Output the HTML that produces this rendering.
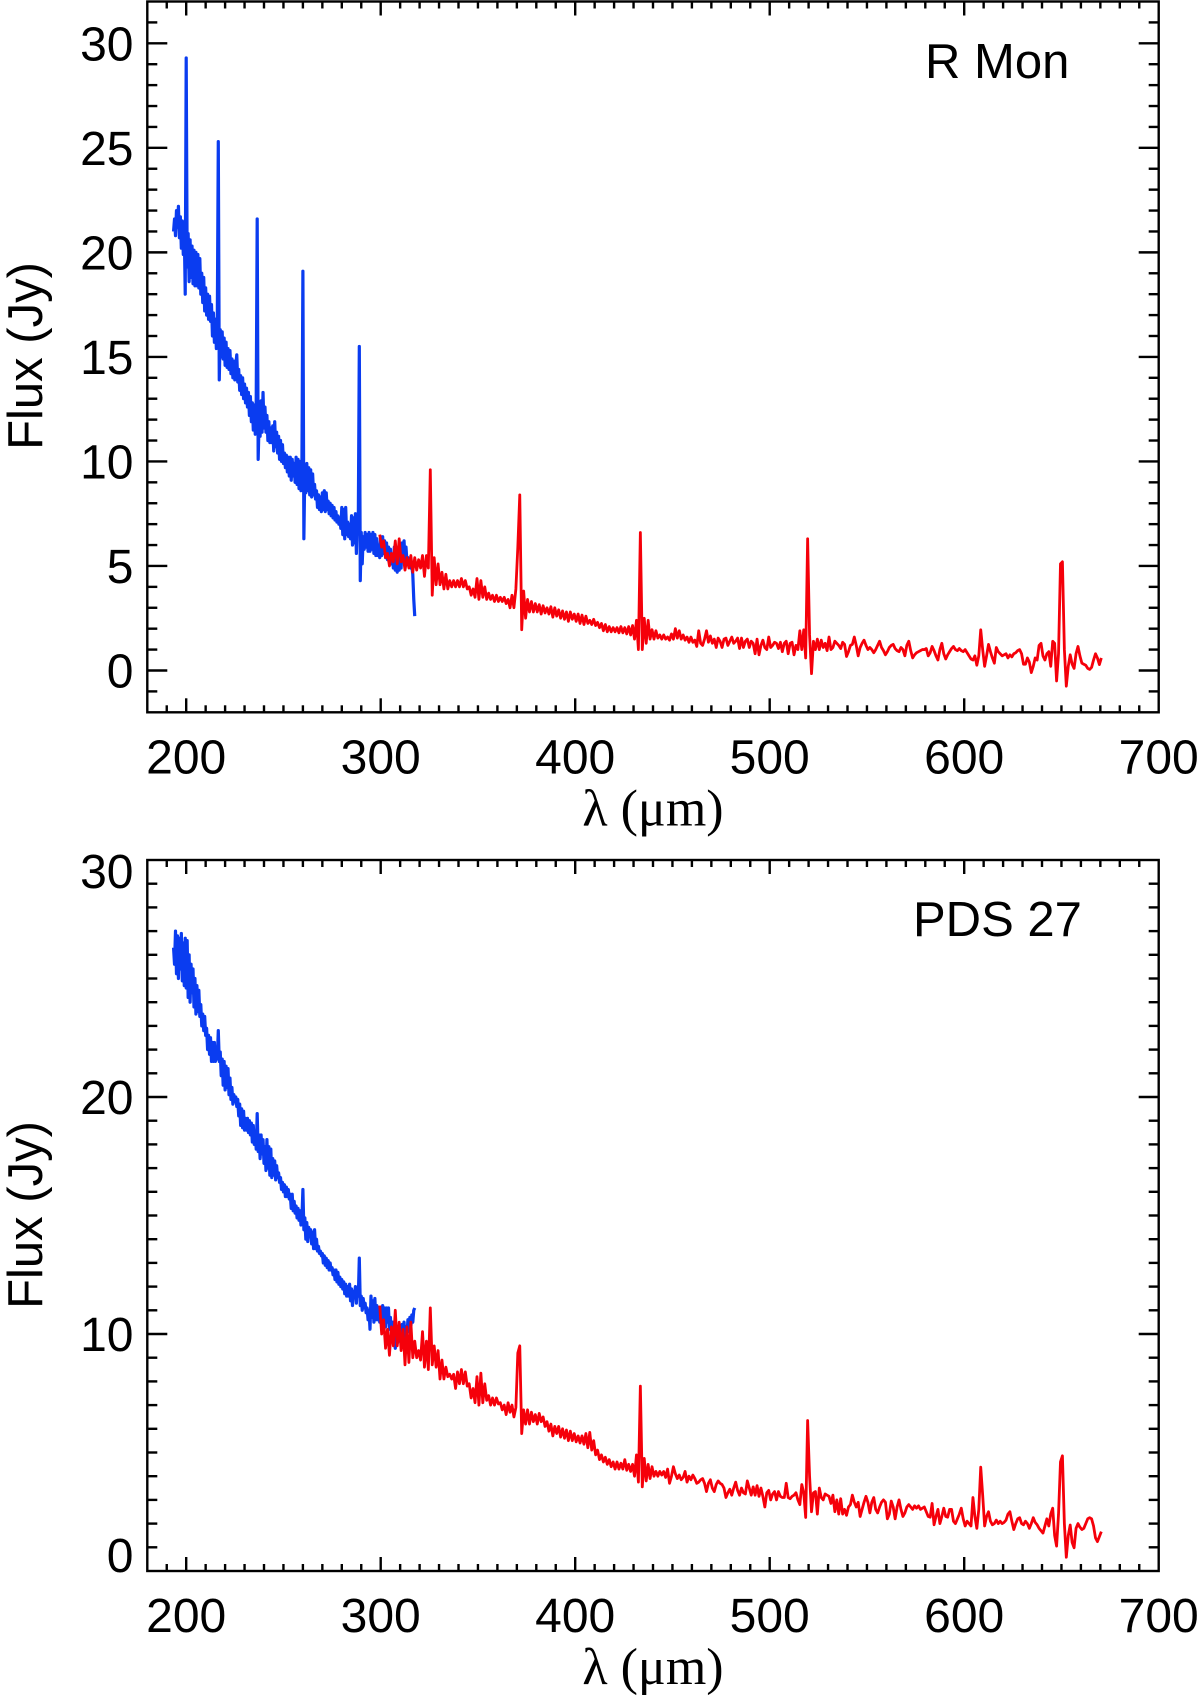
<!DOCTYPE html>
<html>
<head>
<meta charset="utf-8">
<title>R Mon and PDS 27 spectra</title>
<style>
html,body{margin:0;padding:0;background:#fff;width:1200px;height:1697px;overflow:hidden}
svg{display:block}
text{font-family:"Liberation Sans",sans-serif;font-size:48px;fill:#000}
.big{font-size:49px}
.serif{font-family:"Liberation Serif","DejaVu Serif",serif;font-size:52px}
</style>
</head>
<body>
<svg id="chart" width="1200" height="1697" viewBox="0 0 1200 1697" xmlns="http://www.w3.org/2000/svg"></svg>
<script>
const xTickLabels = [200, 300, 400, 500, 600, 700];
const rMonYLabels = [0, 5, 10, 15, 20, 25, 30];
const pdsYLabels = [0, 10, 20, 30];

const blueStart = 193.5;
const blueStep = 0.5;
const redStart = 299.5;
const redStep = 1;

const rMonBlueFlux = [
21.0,21.6,20.8,22.0,21.2,22.2,20.7,21.7,20.2,21.5,19.9,21.0,18.0,29.3,19.3,20.9,18.6,20.6,18.8,20.3,
18.5,20.1,18.4,20.0,18.4,19.9,18.3,19.7,18.0,19.0,17.6,18.8,17.2,18.3,17.0,18.0,16.8,17.9,16.7,17.5,
16.0,17.1,15.7,16.8,15.4,16.9,25.3,13.9,16.3,15.0,16.2,14.9,15.9,14.6,15.7,14.5,15.4,14.4,15.3,14.2,
14.9,14.0,14.8,13.9,14.6,15.1,13.8,14.4,13.4,14.1,13.2,14.0,13.0,13.7,12.8,13.5,12.6,13.3,12.2,13.1,
11.9,12.8,11.5,12.7,11.3,12.9,21.6,10.1,12.0,11.2,12.9,11.4,13.3,11.6,12.6,11.4,12.2,11.0,11.9,10.9,
11.6,10.9,11.7,10.5,11.9,10.7,11.4,10.4,11.2,10.1,11.0,10.0,10.8,9.9,10.4,9.7,10.3,9.5,10.2,9.3,
10.2,9.1,10.1,9.3,9.9,9.0,10.2,8.9,10.1,8.7,10.0,8.6,10.0,19.1,6.3,9.7,8.5,9.9,8.6,9.7,
8.4,9.6,8.3,9.4,8.4,8.9,8.2,8.6,7.8,8.4,7.7,8.3,7.6,8.5,7.7,8.6,7.6,8.5,7.7,8.1,
7.5,8.0,7.4,7.9,7.3,7.8,7.2,7.6,7.1,7.4,7.0,7.3,6.8,7.8,6.5,7.7,6.3,7.8,6.5,7.1,
6.4,7.0,6.3,7.4,6.0,7.3,6.1,7.5,5.6,7.3,7.4,15.5,4.3,6.6,5.1,6.4,5.8,6.6,5.9,6.5,
5.7,6.6,5.7,6.5,5.8,6.6,5.6,6.5,5.5,6.3,5.5,6.0,5.4,6.4,5.5,6.4,5.6,6.2,5.4,6.1,
5.3,5.9,5.2,5.8,5.1,5.5,4.9,5.9,4.8,5.8,4.7,5.7,4.8,5.6,4.9,6.1,5.4,6.2,5.3,5.9,
5.2,5.4,5.0,5.2,4.9,5.0,4.6,3.4,2.6
];

const rMonRedFlux = [
6.5,5.9,6.2,5.4,5.6,5.0,5.6,5.2,6.2,5.1,6.3,5.2,5.5,4.8,5.4,4.9,5.5,4.7,5.4,4.8,
5.3,4.9,5.5,4.5,5.5,4.9,9.6,3.6,5.4,4.1,5.1,4.1,4.7,3.9,4.6,3.9,4.3,4.0,4.3,4.0,
4.3,4.0,4.4,4.0,4.3,3.9,4.0,3.6,3.9,3.5,4.4,3.4,4.3,3.5,4.0,3.4,3.7,3.4,3.6,3.3,
3.6,3.3,3.5,3.3,3.5,3.2,3.4,3.0,3.6,3.0,3.9,5.9,8.4,1.95,3.8,2.5,3.4,2.8,3.3,2.8,
3.2,2.8,3.15,2.7,3.1,2.75,3.0,2.7,3.05,2.55,3.0,2.6,2.9,2.5,2.85,2.45,2.8,2.35,2.8,2.45,
2.7,2.35,2.7,2.25,2.65,2.2,2.6,2.25,2.4,2.2,2.45,2.15,2.3,2.05,2.25,1.9,2.2,1.85,2.1,1.85,
2.05,1.85,2.05,1.8,2.1,1.8,2.05,1.75,2.1,1.7,2.15,1.5,2.4,1.0,6.6,1.0,2.5,1.3,2.4,1.5,
1.95,1.5,1.9,1.55,1.7,1.5,1.7,1.5,1.6,1.45,1.75,1.5,2.0,1.55,1.9,1.5,1.7,1.45,1.6,1.35,
1.6,1.35,1.45,1.15,1.9,1.3,1.2,1.5,1.9,1.35,1.65,1.3,1.5,1.1,1.55,1.4,1.1,1.5,1.55,1.2,
1.4,1.6,1.3,1.4,1.55,1.05,1.55,1.1,1.4,1.5,1.1,1.4,1.3,0.8,1.5,0.75,1.2,1.45,1.1,1.0,
1.6,1.1,1.2,1.35,1.3,1.05,1.35,0.9,1.3,1.4,0.8,1.3,1.35,0.75,1.2,1.0,1.9,1.0,1.95,0.6,
6.3,1.7,-0.15,1.4,1.0,1.5,1.0,1.45,1.1,1.3,0.95,1.6,1.0,1.1,1.4,1.3,1.2,1.05,1.35,1.25,
0.67,0.9,1.2,1.25,1.6,1.2,0.7,1.1,1.3,1.45,1.2,1.0,1.1,1.0,0.85,1.0,1.2,1.4,1.1,0.95,
0.75,0.9,1.1,1.2,1.25,1.05,0.95,0.9,1.1,1.0,0.7,1.2,1.4,0.95,0.6,0.75,0.85,0.9,0.95,1.0,
1.0,1.05,0.7,0.85,1.15,0.95,0.7,0.5,1.0,1.3,0.8,0.55,0.75,0.9,1.05,1.15,1.0,0.95,1.05,0.95,
0.9,1.0,0.85,0.7,0.55,0.5,0.7,0.25,0.7,1.95,1.0,0.2,0.7,1.25,0.9,0.6,0.35,1.1,0.9,0.8,
0.7,0.75,0.8,0.6,0.75,0.65,0.8,0.85,0.95,1.0,0.8,0.3,0.3,0.6,0.4,-0.1,0.2,0.6,0.5,1.2,
1.3,0.7,0.5,0.8,0.9,0.2,1.4,1.3,-0.5,0.8,5.1,5.2,1.0,-0.75,0.2,0.75,0.3,0.1,0.8,1.15,
0.7,0.35,0.3,0.25,0.1,0.05,0.15,0.5,0.8,0.6,0.28,0.6
];

const pdsBlueFlux = [
26.3,25.6,27.0,25.2,26.8,25.0,26.7,25.4,26.9,24.9,26.5,24.7,26.7,24.6,26.6,24.2,26.0,24.0,25.6,24.4,
25.4,23.8,25.0,23.5,24.7,23.6,24.5,23.4,23.9,23.0,23.5,22.8,23.4,22.6,22.9,22.0,22.6,21.8,22.5,21.5,
22.3,21.5,22.3,21.5,22.1,21.6,22.8,21.5,21.9,20.9,21.6,20.5,21.5,20.3,21.3,20.4,21.2,20.1,20.8,19.9,
20.4,19.7,20.1,19.8,20.0,19.6,19.9,19.2,19.7,18.8,19.5,18.7,19.4,18.6,19.1,18.6,19.1,18.5,19.0,18.4,
18.9,18.1,18.8,18.0,18.5,17.8,19.3,17.7,18.4,17.4,18.4,17.6,18.2,17.2,17.9,16.9,18.2,17.0,17.9,16.7,
17.8,16.6,17.4,16.7,17.3,16.5,17.1,16.6,16.8,16.4,16.6,16.1,16.4,16.0,16.3,15.8,16.2,15.8,16.1,15.7,
15.9,15.3,15.9,15.2,15.6,15.1,15.4,14.9,15.3,14.8,15.2,14.6,14.9,16.1,14.4,14.9,14.0,14.7,13.9,14.5,
14.2,14.4,13.8,14.3,13.6,14.4,13.6,14.0,13.5,13.7,13.4,13.5,13.3,13.4,13.0,13.3,12.9,13.2,12.8,13.1,
12.7,13.0,12.7,12.8,12.5,12.7,12.3,12.7,12.2,12.6,12.1,12.4,12.0,12.3,11.9,12.2,11.7,12.1,11.6,12.0,
11.6,12.1,11.4,11.9,11.2,11.8,11.6,12.0,11.3,11.9,11.6,13.2,11.2,11.6,11.0,11.5,11.1,11.3,10.9,11.1,
10.6,11.0,10.2,11.6,10.7,11.4,10.5,11.5,10.6,11.2,10.6,11.1,10.5,10.9,10.4,11.2,10.4,11.1,10.3,11.1,
10.5,11.1,10.2,10.7,9.9,10.5,9.7,10.0,9.4,9.9,9.6,10.2,9.7,10.3,9.9,10.4,10.1,10.5,9.9,10.3,
10.0,10.6,10.1,10.7,10.3,10.8,10.5,11.0,11.1
];

const pdsRedFlux = [
11.2,10.0,10.6,9.4,10.2,9.1,10.3,9.5,11.0,9.5,10.5,9.3,10.2,8.7,10.3,8.8,10.5,9.0,9.7,9.0,
9.3,8.9,10.1,8.6,9.7,8.5,11.1,8.7,9.5,8.6,9.3,8.1,8.9,8.1,8.6,8.2,8.3,8.1,8.3,7.7,
8.4,7.9,8.5,7.9,8.4,7.8,7.9,7.3,7.7,7.1,8.2,7.0,8.35,7.1,7.9,7.2,7.4,7.0,7.3,7.0,
7.3,7.05,7.1,6.8,7.0,6.6,7.1,6.7,7.0,6.5,6.9,9.2,9.5,5.8,6.8,6.2,6.8,6.2,6.7,6.3,
6.6,6.2,6.65,6.3,6.5,6.1,6.3,5.9,6.2,5.7,6.1,5.8,6.1,5.65,6.0,5.6,5.95,5.5,5.9,5.5,
5.8,5.45,5.7,5.4,5.7,5.35,5.8,5.2,5.85,5.1,5.5,4.9,5.1,4.7,4.9,4.6,4.8,4.5,4.7,4.4,
4.6,4.3,4.6,4.3,4.55,4.3,4.7,4.25,4.5,4.2,4.5,4.0,4.9,3.75,7.8,3.55,4.75,3.8,4.5,3.9,
4.4,4.0,4.2,4.0,4.2,4.05,4.2,3.95,4.3,3.7,4.0,4.4,4.1,3.9,4.05,3.85,3.95,4.2,3.75,4.0,
3.85,4.05,3.9,3.7,3.75,3.85,3.9,3.7,3.35,3.7,3.85,3.5,3.35,3.65,3.8,3.7,3.65,3.5,3.1,3.3,
3.45,3.2,3.5,3.75,3.4,3.2,3.5,3.3,3.25,3.8,3.5,3.2,3.55,3.2,3.6,3.15,3.5,3.15,2.7,3.3,
3.4,3.0,3.25,3.35,3.0,3.35,3.15,3.1,3.1,3.7,3.1,3.05,3.15,3.2,3.3,3.0,2.8,3.65,3.3,2.26,
6.35,4.0,2.5,3.3,3.35,2.4,3.5,3.1,3.0,3.25,3.2,3.15,2.85,3.2,2.5,3.0,2.4,3.05,2.4,2.6,
2.35,2.7,2.8,3.2,2.9,2.7,2.9,2.3,2.6,2.9,3.15,2.9,2.45,2.9,3.1,2.6,2.45,2.7,2.9,3.0,
2.9,2.2,2.4,2.95,2.7,2.2,2.7,3.0,2.6,2.3,2.45,2.7,2.8,2.7,2.6,2.75,2.65,2.75,2.6,2.65,
2.7,2.5,2.3,2.27,2.85,1.95,2.3,2.6,2.0,2.3,2.65,2.3,2.27,2.6,2.6,2.1,2.0,2.2,2.4,2.65,
2.2,1.9,2.1,2.0,1.9,3.1,2.3,1.8,2.6,4.38,3.2,1.9,2.3,2.5,2.1,1.95,2.0,2.15,2.0,2.1,
2.0,2.05,2.15,2.4,2.5,2.1,1.75,2.0,2.2,2.25,2.0,1.95,2.1,2.0,1.8,2.0,2.25,2.05,1.95,1.8,
1.7,1.6,1.9,2.2,1.9,2.4,2.65,1.5,1.05,2.4,4.6,4.86,2.0,0.58,1.5,1.94,1.2,0.98,1.8,2.0,
1.85,1.75,1.8,2.0,2.2,2.25,2.2,1.9,1.4,1.24,1.45,1.66
];

const NS = 'http://www.w3.org/2000/svg';
const svg = document.getElementById('chart');
const BLUE = '#0a3cf0';
const RED = '#f5000a';
const plotLeft = 147.3;
const plotRight = 1158.7;
const xMin = 180;
const xMax = 700;

function xScale(v) {
  return plotLeft + (v - xMin) / (xMax - xMin) * (plotRight - plotLeft);
}

function makeEl(tag, attrs, parent) {
  const el = document.createElementNS(NS, tag);
  for (const k in attrs) el.setAttribute(k, attrs[k]);
  parent.appendChild(el);
  return el;
}

function makeTick(parent, x1, y1, x2, y2, name) {
  const el = makeEl('line', {x1: x1, y1: y1, x2: x2, y2: y2, stroke: '#000', 'stroke-width': 2.4}, parent);
  
  
}

function makeSeries(parent, flux, start, step, yScale, colour, width, name) {
  let d = '';
  flux.forEach(function (f, i) {
    d += (i ? 'L' : 'M') + xScale(start + i * step).toFixed(2) + ' ' + yScale(f).toFixed(2);
  });
  const el = makeEl('path', {d: d, fill: 'none', stroke: colour, 'stroke-width': width, 'stroke-linejoin': 'round'}, parent);
  
  
}

function drawPanel(cfg) {
  const g = makeEl('g', {}, svg);
  
  
  const yScale = function (v) {
    return cfg.bottom + (v - cfg.yMin) / (cfg.yMax - cfg.yMin) * (cfg.top - cfg.bottom);
  };

  for (let v = 190; v < xMax; v += 10) {
    const major = v % 100 === 0;
    const len = major ? 14 : 7;
    makeTick(g, xScale(v), cfg.bottom, xScale(v), cfg.bottom - len, 'x-tick-bottom');
    makeTick(g, xScale(v), cfg.top, xScale(v), cfg.top + len, 'x-tick-top');
  }
  for (let v = cfg.yMin + 1; v < cfg.yMax; v += 1) {
    const major = v % cfg.yMajor === 0;
    const len = major ? 20 : 10;
    makeTick(g, plotLeft, yScale(v), plotLeft + len, yScale(v), 'y-tick-left');
    makeTick(g, plotRight, yScale(v), plotRight - len, yScale(v), 'y-tick-right');
  }

  makeSeries(g, cfg.blue, blueStart, blueStep, yScale, BLUE, 3.2, cfg.name + '-short-wavelength-series');
  makeSeries(g, cfg.red, redStart, redStep, yScale, RED, 2.8, cfg.name + '-long-wavelength-series');

  const frame = makeEl('rect', {
    x: plotLeft, y: cfg.top, width: plotRight - plotLeft, height: cfg.bottom - cfg.top,
    fill: 'none', stroke: '#000', 'stroke-width': 2.4
  }, g);
  
  

  xTickLabels.forEach(function (v) {
    const t = makeEl('text', {x: xScale(v), y: cfg.bottom + 61, 'text-anchor': 'middle'}, g);
    t.textContent = String(v);
    
    
  });

  cfg.yLabels.forEach(function (v) {
    let py = yScale(v) + 17;
    if (v === cfg.yMin) py = cfg.bottom + 1;
    if (v === cfg.yMax) py = cfg.top + 28;
    const t = makeEl('text', {x: 133.5, y: py, 'text-anchor': 'end'}, g);
    t.textContent = String(v);
    
    
  });

  const yTitle = makeEl('text', {
    x: 0, y: 0, 'text-anchor': 'middle', class: 'big',
    transform: 'translate(42 ' + cfg.titleY + ') rotate(-90)'
  }, g);
  yTitle.textContent = 'Flux (Jy)';
  
  

  const xTitle = makeEl('text', {x: 653, y: cfg.bottom + 113, 'text-anchor': 'middle', class: 'serif'}, g);
  xTitle.textContent = 'λ (μm)';
  
  

  const label = makeEl('text', {x: cfg.labelX, y: cfg.labelY, class: 'big'}, g);
  label.textContent = cfg.label;
  
  
}

drawPanel({
  name: 'r-mon-panel', top: 1.5, bottom: 712.3, yMin: -2, yMax: 32, yMajor: 5,
  yLabels: rMonYLabels, blue: rMonBlueFlux, red: rMonRedFlux,
  titleY: 356, label: 'R Mon', labelX: 925, labelY: 78
});
drawPanel({
  name: 'pds-27-panel', top: 860, bottom: 1571, yMin: 0, yMax: 30, yMajor: 10,
  yLabels: pdsYLabels, blue: pdsBlueFlux, red: pdsRedFlux,
  titleY: 1215, label: 'PDS 27', labelX: 913, labelY: 936
});
</script>
</body>
</html>
